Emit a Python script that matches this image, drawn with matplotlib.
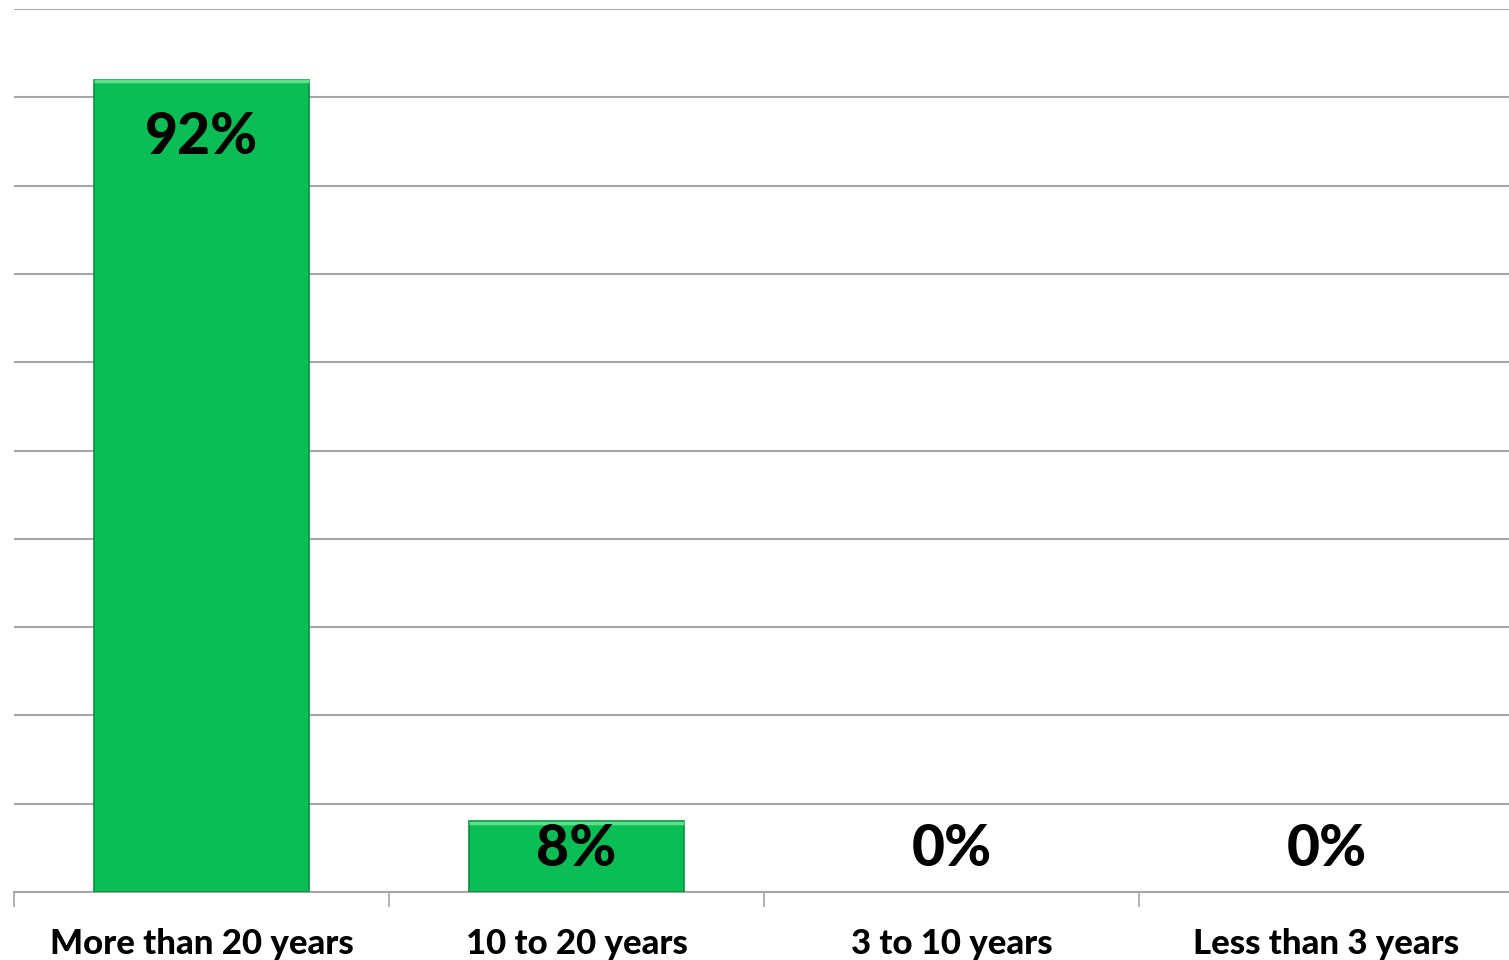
import matplotlib
matplotlib.use("Agg")
import matplotlib.pyplot as plt
import numpy as np

categories = ["More than 20 years", "10 to 20 years", "3 to 10 years", "Less than 3 years"]
values = [0.92, 0.08, 0.0, 0.0]
labels = ["92%", "8%", "0%", "0%"]

plt.rcParams['font.family'] = ['Lato', 'DejaVu Sans']

W, H = 1509, 960
fig = plt.figure(figsize=(W/100, H/100), dpi=100)
ax = fig.add_axes([14/W, 1-892/H, 1500/W, 883/H])

x = np.arange(len(categories))
lw = [1.2 if v > 0 else 0 for v in values]
ax.bar(x, values, width=0.575, color="#0BBD55", edgecolor="#07903F", linewidth=lw, zorder=3)
for xi, v in zip(x, values):
    if v > 0:
        ax.plot([xi-0.2875, xi+0.2875], [v-0.002, v-0.002], color="#5CE08C", lw=2.5, zorder=4,
                solid_capstyle='butt')

for xi, v, lab in zip(x, values, labels):
    ax.text(xi, max(v-0.066, 0.048), lab, ha='center', va='center', fontsize=41,
            fontweight=900, color='black', zorder=5)

ax.set_xlim(-0.5, len(categories)-0.5)
ax.set_ylim(0, 1.0)
ax.set_yticks(np.arange(0, 1.01, 0.1))
ax.yaxis.grid(True, color="#A6A6A6", lw=1.5, zorder=0)
ax.tick_params(axis='y', left=False, labelleft=False)
ax.set_xticks(x)
ax.set_xticklabels(categories, fontsize=25, fontweight=900)
ax.tick_params(axis='x', length=0, pad=26)
ax.set_xticks(np.arange(-0.5, len(categories)-0.5, 1), minor=True)
ax.tick_params(axis='x', which='minor', length=11, color="#A6A6A6", width=1.2)
for s in ['top', 'right', 'left']:
    ax.spines[s].set_visible(False)
ax.spines['bottom'].set_color("#A6A6A6")
ax.spines['bottom'].set_linewidth(1.5)
ax.set_axisbelow(True)

fig.savefig("out.png", dpi=100)
